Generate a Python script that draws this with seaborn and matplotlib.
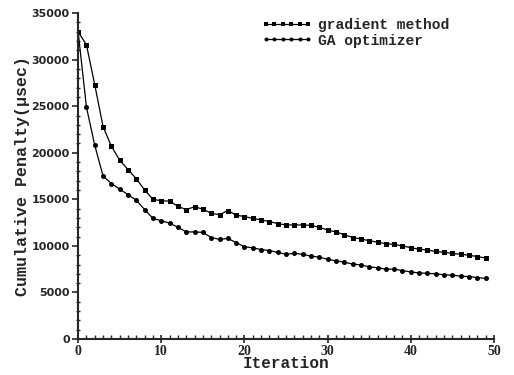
import numpy as np
import pandas as pd
import matplotlib
matplotlib.use("Agg")
import matplotlib.pyplot as plt
from matplotlib.ticker import MultipleLocator
import seaborn as sns

# values (iterations 0..49)
iterations = list(range(50))
gradient_method = [33000, 31600, 27300, 22800, 20700, 19200, 18200, 17200, 16000, 15000,
                   14850, 14800, 14250, 13900, 14200, 13950, 13500, 13350, 13800, 13300,
                   13150, 12950, 12800, 12600, 12400, 12250, 12250, 12250, 12200, 12000,
                   11700, 11500, 11200, 10900, 10750, 10550, 10400, 10250, 10150, 10000,
                   9800, 9650, 9550, 9400, 9300, 9200, 9100, 9000, 8850, 8700]
ga_optimizer = [33000, 24900, 20800, 17500, 16700, 16100, 15500, 14900, 13900, 12950,
                12700, 12450, 12000, 11500, 11500, 11450, 10900, 10700, 10800, 10350,
                9900, 9800, 9600, 9500, 9300, 9100, 9200, 9100, 8900, 8800,
                8550, 8400, 8250, 8050, 7950, 7750, 7650, 7500, 7500, 7350,
                7200, 7100, 7050, 7000, 6900, 6850, 6750, 6700, 6600, 6500]
series_names = ["gradient method", "GA optimizer"]

df = pd.DataFrame({
    "Iteration": iterations * 2,
    "Penalty": gradient_method + ga_optimizer,
    "Method": [series_names[0]] * 50 + [series_names[1]] * 50,
})

sns.set_style("ticks")
plt.rcParams["font.family"] = ["Liberation Serif", "DejaVu Serif"]

fig = plt.figure(figsize=(5.14, 3.75), dpi=100)
ax = fig.add_axes([0.152, 0.096, 0.809, 0.869])

sns.lineplot(data=df, x="Iteration", y="Penalty", hue="Method", style="Method",
             palette=["black", "black"], markers={series_names[0]: "s", series_names[1]: "o"},
             dashes=False, markersize=3.6, linewidth=0.9, markeredgewidth=0,
             ax=ax)

ax.set_xlim(0, 50)
ax.set_ylim(0, 35000)
ax.xaxis.set_major_locator(MultipleLocator(10))
ax.xaxis.set_minor_locator(MultipleLocator(1))
ax.yaxis.set_major_locator(MultipleLocator(5000))
ax.yaxis.set_minor_locator(MultipleLocator(1000))
ax.tick_params(axis="x", which="major", direction="inout", length=6, width=1.2, pad=1)
ax.tick_params(axis="x", which="minor", direction="in", length=3, width=1)
ax.tick_params(axis="y", which="major", direction="out", length=4, width=1.2, pad=2)
ax.tick_params(axis="y", which="minor", direction="inout", length=3, width=1)
for s in ["left", "bottom"]:
    ax.spines[s].set_linewidth(1.5)
sns.despine(ax=ax)

for lab in ax.get_xticklabels():
    lab.set_fontfamily("Liberation Serif")
    lab.set_fontweight("bold")
    lab.set_fontsize(10)
for lab in ax.get_yticklabels():
    lab.set_fontfamily("DejaVu Sans")
    lab.set_fontweight("bold")
    lab.set_fontsize(8)

ax.set_xlabel("Iteration", fontfamily="Liberation Mono", fontweight="bold",
              fontsize=11.5, labelpad=-1)
ax.set_ylabel("Cumulative Penalty(μsec)", fontfamily="Liberation Mono",
              fontweight="bold", fontsize=12, labelpad=1)

handles, labels = ax.get_legend_handles_labels()
ax.legend(handles, labels, loc="upper right", bbox_to_anchor=(0.925, 1.025),
          numpoints=6, handlelength=3.5, handletextpad=0.4, labelspacing=0.1,
          markerscale=0.8, frameon=False,
          prop={"family": "Liberation Mono", "weight": "bold", "size": 10.5})

fig.savefig("out.png", dpi=100)
